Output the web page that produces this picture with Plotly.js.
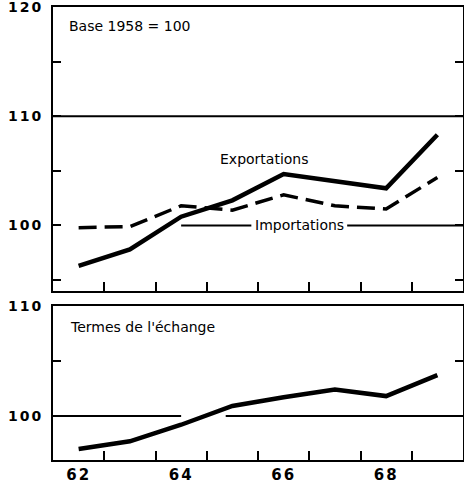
<!DOCTYPE html>
<html>
<head>
<meta charset="utf-8">
<script src="https://cdn.plot.ly/plotly-3.0.1.min.js"></script>
<style>
html,body{margin:0;padding:0;background:#fff;}
#chart{width:464px;height:485px;}
.x3tick text{letter-spacing:2px;}
.ytick text,.y2tick text{letter-spacing:2px;}
</style>
</head>
<body>
<div id="chart"></div>
<script>
const years = [62, 63, 64, 65, 66, 67, 68, 69];
const exportations = [96.3, 97.8, 100.8, 102.3, 104.7, 104.1, 103.4, 108.3];
const importations = [99.8, 99.9, 101.8, 101.4, 102.8, 101.8, 101.5, 104.4];
const termes = [97.0, 97.7, 99.2, 100.9, 101.7, 102.4, 101.8, 103.7];
const xLabels = ['62', '64', '66', '68'];
const xLabelVals = [62, 64, 66, 68];
const xTickVals = [62.5, 63.5, 64.5, 65.5, 66.5, 67.5, 68.5];
const yTopTickVals = [95, 100, 105, 110, 115, 120];
const yTopTickText = ['', '100', '', '110', '', '120'];
const yBotTickVals = [100, 105, 110];
const yBotTickText = ['100', '', '110'];

const txt = {family: 'DejaVu Sans', size: 14, color: '#000'};
const tickFont = {family: 'DejaVu Sans', size: 14, color: '#000', weight: 'bold'};

const traces = [
  {x: years, y: exportations, xaxis: 'x2', yaxis: 'y2', mode: 'lines', name: 'Exportations',
   line: {color: '#000', width: 4.5}},
  {x: years, y: importations, xaxis: 'x2', yaxis: 'y2', mode: 'lines', name: 'Importations',
   line: {color: '#000', width: 3.5, dash: '18px,8px'}},
  {x: years, y: termes, xaxis: 'x', yaxis: 'y', mode: 'lines', name: "Termes de l'échange",
   line: {color: '#000', width: 4.5}},
  {x: xLabelVals, y: [null, null, null, null], xaxis: 'x3', yaxis: 'y', mode: 'lines', showlegend: false, hoverinfo: 'skip'}
];

const baseX = {
  range: [61.5, 69.5], showgrid: false, zeroline: false,
  showline: true, linewidth: 2, linecolor: '#000', mirror: true,
  tickmode: 'array', tickvals: xTickVals, showticklabels: false,
  ticks: 'inside', ticklen: 9, tickwidth: 2, tickcolor: '#000', fixedrange: true
};
const baseY = {
  showgrid: false, zeroline: false,
  showline: true, linewidth: 2, linecolor: '#000', mirror: 'ticks',
  tickmode: 'array', ticks: 'inside', ticklen: 8, tickwidth: 2, tickcolor: '#000',
  tickfont: tickFont, ticklabelstandoff: 5, ticklabeloverflow: 'allow', fixedrange: true
};

const layout = {
  width: 464, height: 485,
  margin: {l: 53, r: 1, t: 7, b: 25},
  paper_bgcolor: '#fff', plot_bgcolor: '#fff',
  showlegend: false,
  font: txt,
  xaxis: Object.assign({}, baseX, {anchor: 'y', domain: [0, 1]}),
  xaxis3: {overlaying: 'x', anchor: 'y', side: 'bottom', range: [61.5, 69.5], showgrid: false, zeroline: false,
    showline: false, ticks: '', tickmode: 'array', tickvals: xLabelVals, ticktext: xLabels,
    tickfont: {family: 'DejaVu Sans', size: 15, color: '#000', weight: 'bold'}, ticklabelstandoff: 4, fixedrange: true},
  yaxis: Object.assign({}, baseY, {anchor: 'x', domain: [0, 0.3406], range: [96, 110], tickvals: yBotTickVals, ticktext: yBotTickText}),
  xaxis2: Object.assign({}, baseX, {anchor: 'y2', domain: [0, 1]}),
  yaxis2: Object.assign({}, baseY, {anchor: 'x2', domain: [0.3731, 1], range: [94, 120], tickvals: yTopTickVals, ticktext: yTopTickText}),
  shapes: [
    {type: 'line', xref: 'x2 domain', yref: 'y2', x0: 0, x1: 1, y0: 110, y1: 110, line: {color: '#000', width: 2}},
    {type: 'line', xref: 'x2', yref: 'y2', x0: 64.0, x1: 65.37, y0: 100, y1: 100, line: {color: '#000', width: 2}},
    {type: 'line', xref: 'x2', yref: 'y2', x0: 67.24, x1: 69.5, y0: 100, y1: 100, line: {color: '#000', width: 2}},
    {type: 'line', xref: 'x', yref: 'y', x0: 61.5, x1: 64.0, y0: 100, y1: 100, line: {color: '#000', width: 2}},
    {type: 'line', xref: 'x', yref: 'y', x0: 64.87, x1: 69.5, y0: 100, y1: 100, line: {color: '#000', width: 2}}
  ],
  annotations: [
    {xref: 'x2', yref: 'y2', x: 61.77, y: 118.3, xanchor: 'left', yanchor: 'middle', text: 'Base 1958 = 100', showarrow: false, font: txt},
    {xref: 'x2', yref: 'y2', x: 65.63, y: 106.04, xanchor: 'center', yanchor: 'middle', text: 'Exportations', showarrow: false, font: txt},
    {xref: 'x2', yref: 'y2', x: 66.3, y: 100, xanchor: 'center', yanchor: 'middle', text: 'Importations', showarrow: false, font: txt},
    {xref: 'x', yref: 'y', x: 61.79, y: 108.06, xanchor: 'left', yanchor: 'middle', text: "Termes de l'échange", showarrow: false, font: txt}
  ]
};

Plotly.newPlot('chart', traces, layout, {displayModeBar: false, staticPlot: true});
</script>
</body>
</html>
